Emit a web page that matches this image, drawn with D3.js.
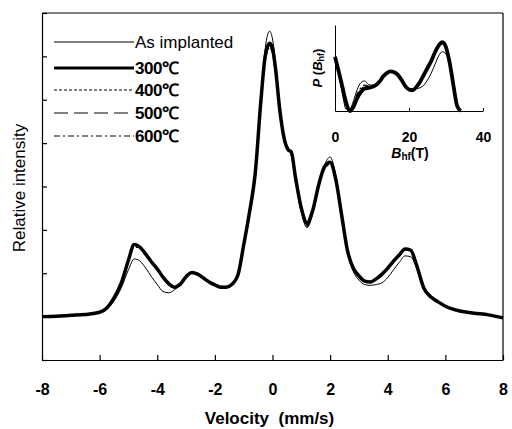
<!DOCTYPE html>
<html>
<head>
<meta charset="utf-8">
<script src="https://cdn.jsdelivr.net/npm/d3@7"></script>
<style>
  body { margin: 0; background: #fff; }
  svg { font-family: "Liberation Sans", Arial, sans-serif; }
</style>
</head>
<body>
<div id="chart"></div>
<script>
// Mossbauer spectra

const velocity = [-8,-7.5,-7,-6.5,-6,-5.75,-5.5,-5.25,-5,-4.8,-4.6,-4.4,-4.2,-4,-3.8,-3.6,-3.4,-3.2,-3,-2.8,
  -2.6,-2.4,-2.2,-2,-1.8,-1.6,-1.4,-1.2,-1,-0.8,-0.6,-0.4,-0.25,-0.1,0,0.1,0.25,0.4,0.55,0.65,
  0.8,1,1.2,1.4,1.6,1.8,2,2.2,2.4,2.6,2.8,3,3.2,3.4,3.6,3.8,4,4.2,4.4,4.6,
  4.8,5,5.25,5.5,5.75,6,6.5,7,7.5,8];

const asImplanted = [1.00,1.02,1.02,1.05,1.09,1.17,1.36,1.66,2.08,2.33,2.28,2.12,1.92,1.74,1.58,1.55,1.62,1.74,1.90,2.00,
  1.97,1.88,1.79,1.72,1.67,1.67,1.73,1.93,2.60,3.40,4.35,6.05,7.20,7.58,7.40,6.90,5.90,5.15,4.85,4.72,
  4.10,3.40,3.05,3.38,3.98,4.48,4.68,4.25,3.38,2.50,2.05,1.84,1.74,1.72,1.74,1.78,1.90,2.08,2.25,2.40,
  2.38,2.12,1.66,1.44,1.33,1.23,1.12,1.07,1.03,0.97];

const t300 = [1.00,1.01,1.03,1.05,1.10,1.20,1.43,1.77,2.30,2.66,2.60,2.44,2.26,2.10,1.91,1.76,1.68,1.75,1.92,2.02,
  1.98,1.89,1.80,1.73,1.68,1.68,1.75,1.96,2.65,3.40,4.30,6.00,7.02,7.30,7.18,6.75,5.78,5.12,4.84,4.80,
  4.20,3.50,3.16,3.46,4.03,4.45,4.56,4.15,3.34,2.53,2.12,1.94,1.82,1.80,1.87,1.98,2.12,2.28,2.42,2.56,
  2.53,2.19,1.66,1.45,1.34,1.24,1.13,1.08,1.04,0.97];

const t400 = [1.01,1.02,1.02,1.06,1.11,1.22,1.45,1.80,2.32,2.64,2.62,2.46,2.28,2.08,1.90,1.74,1.66,1.72,1.90,2.00,
  1.97,1.90,1.82,1.75,1.70,1.70,1.76,1.98,2.62,3.35,4.25,5.90,6.90,7.20,7.05,6.60,5.85,5.20,4.86,4.76,
  4.15,3.45,3.10,3.42,4.00,4.40,4.52,4.12,3.30,2.50,2.10,1.92,1.80,1.78,1.85,1.96,2.10,2.26,2.40,2.54,
  2.52,2.20,1.68,1.47,1.35,1.25,1.14,1.09,1.05,0.98];

const t500 = [0.99,1.00,1.02,1.04,1.09,1.19,1.40,1.74,2.26,2.62,2.58,2.42,2.24,2.07,1.88,1.73,1.66,1.74,1.90,2.00,
  1.96,1.88,1.79,1.72,1.67,1.67,1.74,1.95,2.60,3.30,4.20,5.95,6.95,7.25,7.10,6.70,5.80,5.15,4.82,4.74,
  4.18,3.48,3.12,3.44,4.02,4.42,4.54,4.14,3.32,2.52,2.11,1.93,1.81,1.79,1.86,1.97,2.11,2.27,2.41,2.55,
  2.52,2.18,1.65,1.44,1.33,1.23,1.12,1.07,1.03,0.96];

const t600 = [1.00,1.01,1.03,1.05,1.10,1.21,1.44,1.78,2.28,2.60,2.57,2.43,2.25,2.09,1.90,1.75,1.67,1.73,1.91,2.01,
  1.97,1.89,1.80,1.74,1.69,1.69,1.75,1.97,2.64,3.38,4.22,5.92,6.92,7.22,7.08,6.68,5.82,5.18,4.88,4.78,
  4.16,3.46,3.08,3.40,3.98,4.42,4.50,4.10,3.30,2.51,2.10,1.93,1.81,1.79,1.86,1.97,2.11,2.27,2.41,2.55,
  2.53,2.20,1.67,1.46,1.35,1.25,1.14,1.08,1.04,0.97];

const xTicks = [-8, -6, -4, -2, 0, 2, 4, 6, 8];
const yTicks = [0, 1, 2, 3, 4, 5, 6, 7, 8];

// inset: hyperfine field distribution
const bhf = [0,1,2,3,4,5,6,7,8,9,10,11,12,13,14,15,16,17,18,19,20,21,22,23,24,25,26,27,28,29,30,31,32,33,34];
const pAs  = [0.63,0.42,0.20,0.02,0.02,0.12,0.25,0.33,0.35,0.31,0.30,0.31,0.35,0.40,0.44,0.46,0.45,0.42,0.36,0.30,0.26,0.26,0.26,0.27,0.30,0.36,0.44,0.54,0.64,0.69,0.66,0.52,0.30,0.08,0.00];
const p300 = [0.63,0.46,0.28,0.10,0.00,0.05,0.15,0.22,0.26,0.27,0.28,0.30,0.34,0.40,0.44,0.46,0.45,0.42,0.36,0.29,0.25,0.24,0.28,0.34,0.42,0.50,0.58,0.68,0.76,0.80,0.74,0.56,0.30,0.06,0.00];
const p400 = [0.63,0.45,0.27,0.09,0.01,0.07,0.18,0.25,0.28,0.28,0.29,0.31,0.35,0.40,0.44,0.46,0.45,0.41,0.35,0.29,0.25,0.25,0.29,0.35,0.43,0.51,0.59,0.68,0.75,0.78,0.72,0.55,0.30,0.06,0.00];
const p500 = [0.63,0.45,0.27,0.08,0.00,0.06,0.16,0.23,0.27,0.28,0.29,0.31,0.35,0.41,0.45,0.47,0.46,0.42,0.36,0.29,0.25,0.24,0.28,0.34,0.42,0.50,0.58,0.67,0.75,0.79,0.73,0.55,0.29,0.05,0.00];
const p600 = [0.63,0.46,0.28,0.10,0.01,0.08,0.20,0.27,0.30,0.29,0.29,0.31,0.35,0.40,0.44,0.46,0.45,0.42,0.36,0.30,0.26,0.25,0.28,0.34,0.42,0.50,0.58,0.67,0.75,0.79,0.73,0.56,0.31,0.07,0.00];
const insetTicks = [0, 20, 40];

const legendLabels = ['As implanted', '300\u2103', '400\u2103', '500\u2103', '600\u2103'];

// Styles per series
const styles = [
  { width: 1.0, dash: null },
  { width: 3.5, dash: null },
  { width: 1.1, dash: '3,2' },
  { width: 1.1, dash: '14,6' },
  { width: 1.1, dash: '6,3,2,3' }
];

const W = 512, H = 429;
const margin = { top: 13, right: 9, bottom: 69, left: 42 };
const width = W - margin.left - margin.right;
const height = H - margin.top - margin.bottom;

const svg = d3.select('#chart').append('svg')
  .attr('width', W)
  .attr('height', H);

const g = svg.append('g')
  .attr('transform', `translate(${margin.left},${margin.top})`);

// Scales
const x = d3.scaleLinear().domain([-8, 8]).range([0, width]);
const y = d3.scaleLinear().domain([0, 8]).range([height, 0]);

// Axes (ticks pointing inward)
g.append('g')
  .attr('transform', `translate(0,${height})`)
  .call(d3.axisBottom(x).tickValues(xTicks).tickSizeInner(-5).tickSizeOuter(0).tickPadding(24)
    .tickFormat(d => d < 0 ? '-' + Math.abs(d) : String(d)))
  .call(ax => ax.selectAll('text').style('font-size', '16px').style('font-weight', 'bold').attr('fill', '#000'))
  .call(ax => ax.selectAll('line, path').attr('stroke', '#000').attr('stroke-width', 1.2));

g.append('g')
  .call(d3.axisLeft(y).tickValues(yTicks).tickSizeInner(-5).tickSizeOuter(0).tickFormat(''))
  .call(ax => ax.selectAll('line, path').attr('stroke', '#000').attr('stroke-width', 1.2));

// frame top / right
g.append('line').attr('x1', 0).attr('x2', width).attr('y1', 0).attr('y2', 0)
  .attr('stroke', '#000').attr('stroke-width', 1.2);
g.append('line').attr('x1', width).attr('x2', width).attr('y1', 0).attr('y2', height)
  .attr('stroke', '#000').attr('stroke-width', 1.2);

// Axis titles
svg.append('text')
  .attr('x', margin.left + width / 2 - 3)
  .attr('y', 424)
  .attr('text-anchor', 'middle')
  .style('font-size', '17px')
  .style('font-weight', 'bold')
  .style('white-space', 'pre')
  .text('Velocity  (mm/s)');

svg.append('text')
  .attr('transform', 'translate(25,188) rotate(-90)')
  .attr('text-anchor', 'middle')
  .style('font-size', '17px')
  .text('Relative intensity');

// Spectra
const series = [asImplanted, t300, t400, t500, t600];
const line = d3.line()
  .x(d => x(d[0]))
  .y(d => y(d[1]))
  .curve(d3.curveMonotoneX);

// draw the thick 300C line last so the thin lines sit in it
const order = [2, 3, 4, 0, 1];
order.forEach(i => {
  const pts = velocity.map((v, k) => [v, series[i][k]]);
  g.append('path')
    .datum(pts)
    .attr('fill', 'none')
    .attr('stroke', '#000')
    .attr('stroke-width', styles[i].width)
    .attr('stroke-dasharray', styles[i].dash)
    .attr('stroke-linejoin', 'round')
    .attr('d', line);
});

// Legend
const legendY = [42, 68, 90, 113, 136];
legendLabels.forEach((label, i) => {
  svg.append('line')
    .attr('x1', 54).attr('x2', 134)
    .attr('y1', legendY[i]).attr('y2', legendY[i])
    .attr('stroke', '#000')
    .attr('stroke-width', i === 1 ? 3 : styles[i].width)
    .attr('stroke-dasharray', styles[i].dash);
  svg.append('text')
    .attr('x', 135)
    .attr('y', legendY[i] + 6)
    .style('font-size', '17px')
    .style('font-weight', i === 0 ? 'normal' : 'bold')
    .style('letter-spacing', i === 0 ? '0px' : '-0.5px')
    .text(label);
});

// Inset
const ix = d3.scaleLinear().domain([0, 40]).range([335, 483]);
const iy = d3.scaleLinear().domain([0, 1]).range([111, 25]);

const inset = svg.append('g');

inset.append('g')
  .attr('transform', 'translate(0,111)')
  .call(d3.axisBottom(ix).tickValues(insetTicks).tickSizeInner(-3).tickSizeOuter(0).tickPadding(21))
  .call(ax => ax.selectAll('text').style('font-size', '14px').style('font-weight', 'bold').attr('fill', '#000'))
  .call(ax => ax.selectAll('line, path').attr('stroke', '#000').attr('stroke-width', 1));

inset.append('g')
  .attr('transform', 'translate(335,0)')
  .call(d3.axisLeft(iy).tickValues([]).tickSizeOuter(0))
  .call(ax => ax.selectAll('line, path').attr('stroke', '#000').attr('stroke-width', 1));

const iline = d3.line()
  .x(d => ix(d[0]))
  .y(d => iy(d[1]))
  .curve(d3.curveMonotoneX);

const pSeries = [pAs, p300, p400, p500, p600];
const iWidths = [1.0, 3.8, 1.2, 1.2, 1.2];
order.forEach(i => {
  inset.append('path')
    .datum(bhf.map((b, k) => [b, pSeries[i][k]]))
    .attr('fill', 'none')
    .attr('stroke', '#000')
    .attr('stroke-width', iWidths[i])
    .attr('stroke-dasharray', i >= 2 ? styles[i].dash : null)
    .attr('d', iline);
});

// inset titles
const bt = inset.append('text')
  .attr('x', 410)
  .attr('y', 158)
  .attr('text-anchor', 'middle')
  .style('font-size', '14px')
  .style('font-weight', 'bold');
bt.append('tspan').style('font-style', 'italic').text('B');
bt.append('tspan').attr('dy', 2).style('font-size', '10px').text('hf');
bt.append('tspan').attr('dy', -2).text('(T)');

const pt = inset.append('text')
  .attr('transform', 'translate(322,68) rotate(-90)')
  .attr('text-anchor', 'middle')
  .style('font-size', '13px')
  .style('font-weight', 'bold');
pt.append('tspan').style('font-style', 'italic').text('P');
pt.append('tspan').text(' (');
pt.append('tspan').style('font-style', 'italic').text('B');
pt.append('tspan').attr('dy', 2).style('font-size', '9px').text('hf');
pt.append('tspan').attr('dy', -2).text(')');
</script>
</body>
</html>
